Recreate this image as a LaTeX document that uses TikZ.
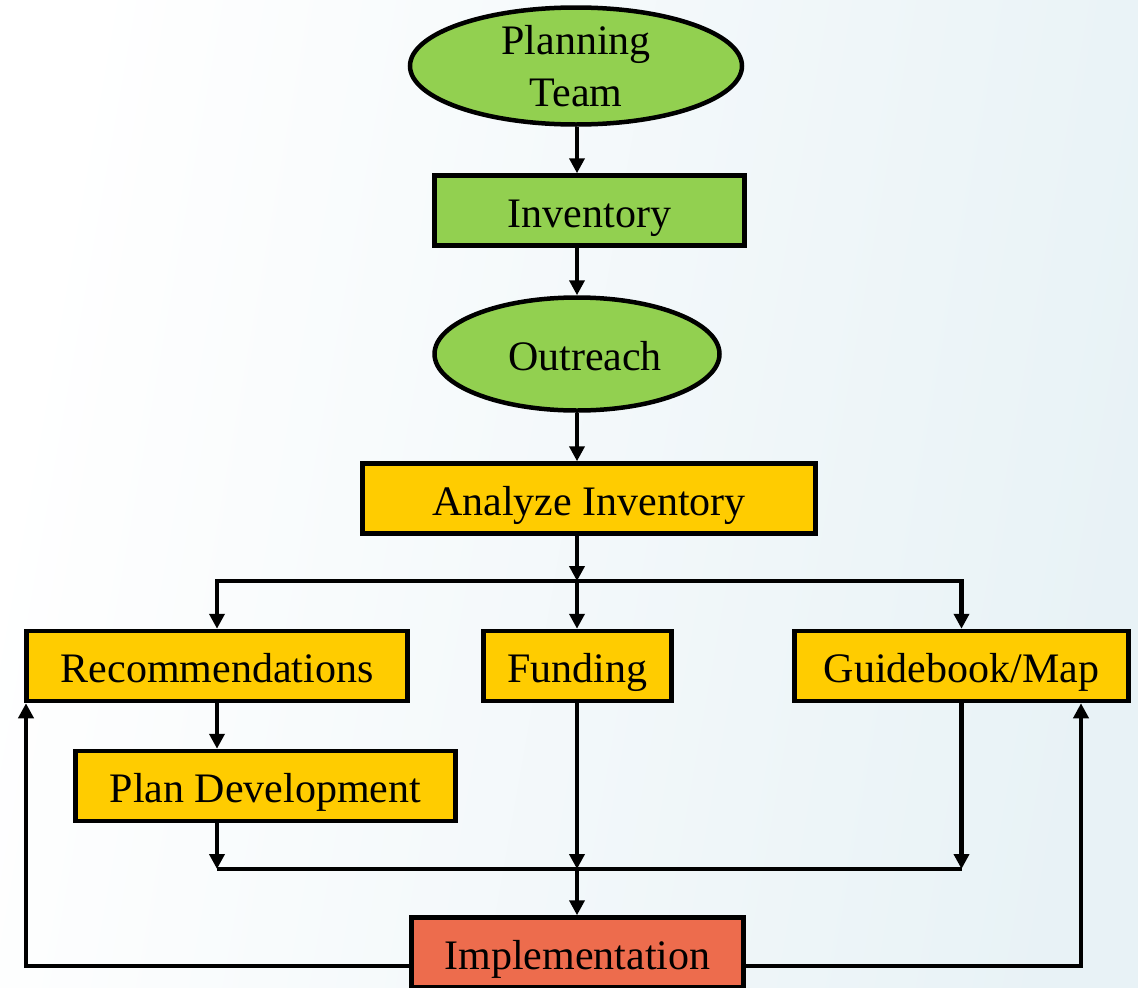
\documentclass[tikz,border=0pt]{standalone}
\usepackage{fontspec}
\setmainfont{Liberation Serif}
\usetikzlibrary{shapes.geometric,arrows.meta}
\definecolor{grn}{RGB}{146,208,80}
\definecolor{ylw}{RGB}{255,204,0}
\definecolor{org}{RGB}{237,108,77}
\definecolor{bgB}{RGB}{232,242,246}
\begin{document}
\begin{tikzpicture}[x=1pt,y=-1pt,
  base/.style={draw=black,line width=4.5pt,text=black,font=\fontsize{42}{52}\selectfont},
  oval/.style={base,ellipse,fill=grn,inner sep=-15pt,align=center},
  box/.style={base,rectangle,inner sep=0pt,minimum height=70pt,text height=42pt,text depth=9pt},
  ybox/.style={box,fill=ylw},
  conn/.style={line width=4.5pt,draw=black},
  arr/.style={conn,-{Triangle[width=15pt,length=15pt]}}]
\useasboundingbox (0,0) rectangle (1138,988);
\shade[left color=white,right color=bgB,shading angle=80] (0,0) rectangle (1138,988);

\node[oval,minimum width=332pt,minimum height=117pt] (pt) at (576,66) {Planning\\Team};
\node[box,fill=grn,minimum width=310pt] (inv) at (589.5,210.5) {Inventory};
\node[oval,minimum width=285pt,minimum height=113pt,text height=42pt,text depth=9pt] (ore) at (577,354) {\hspace*{16pt}Outreach};
\node[ybox,minimum width=453pt] (ana) at (589,498.5) {Analyze Inventory};
\node[ybox,minimum width=381pt] (rec) at (217,666) {Recommendations};
\node[ybox,minimum width=188pt] (fund) at (577.5,666) {Funding};
\node[ybox,minimum width=334pt] (gbm) at (961.5,666) {Guidebook/Map};
\node[ybox,minimum width=380pt] (pd) at (265.5,786) {Plan Development};
\node[box,fill=org,minimum width=332pt] (imp) at (577.5,952.5) {Implementation};

\coordinate (bt) at (577,581);
\coordinate (bb) at (577,869);
\coordinate (fl) at (26,966);
\coordinate (fr) at (1081,966);

\draw[arr] (pt.south -| bt) -- (inv.north -| bt);
\draw[arr] (inv.south -| bt) -- (ore.north -| bt);
\draw[arr] (ore.south -| bt) -- (ana.north -| bt);
\draw[arr] (ana.south -| bt) -- (bt);
\draw[arr] (bt) -- (fund.north -| bt);
\draw[arr] (bt) -| (rec.north);
\draw[arr] (bt) -| (gbm.north);
\draw[arr] (rec.south) -- (rec.south |- pd.north);
\draw[arr] (pd.south -| rec.south) -- (rec.south |- bb);
\draw[arr] (fund.south -| bb) -- (bb);
\draw[arr] (gbm.south) -- (gbm.south |- bb);
\draw[conn] (rec.south |- bb) -- (gbm.south |- bb);
\draw[arr] (bb) -- (imp.north -| bb);
\draw[arr] (imp.west |- fl) -- (fl) -- (fl |- rec.south);
\draw[arr] (imp.east |- fr) -- (fr) -- (fr |- gbm.south);
\end{tikzpicture}
\end{document}
